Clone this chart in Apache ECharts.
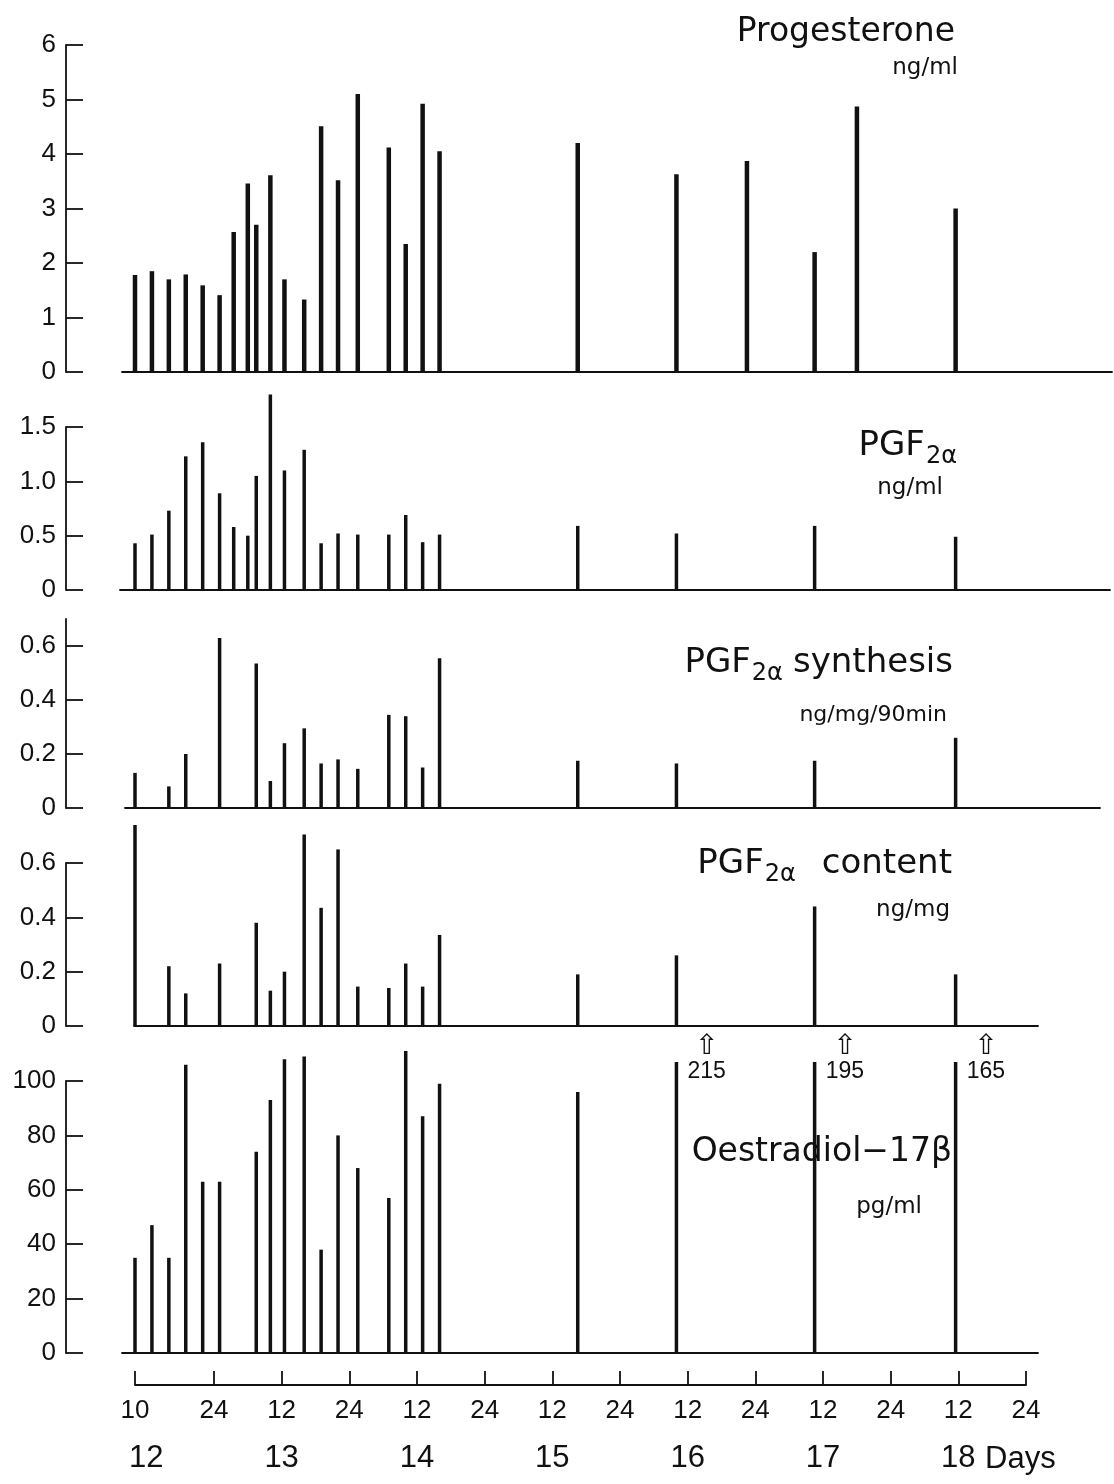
<!DOCTYPE html>
<html lang="en">
<head>
  <meta charset="UTF-8">
  <title>Hormone profiles</title>
  <style>
    html, body { margin: 0; padding: 0; background: #fff; }
    #main { width: 1114px; height: 1484px; }
  </style>
</head>
<body>
  <div id="main"></div>
  <script src="https://cdn.jsdelivr.net/npm/echarts@6/dist/echarts.min.js"></script>
  <script>
    // sampling times in hours, counted from 0h of day 12
    var hours = [10, 13, 16, 19, 22, 25, 27.5, 30, 31.5, 34, 36.5, 40, 43, 46, 49.5, 55, 58, 61, 64,
                 88.5, 106, 118.5, 130.5, 138, 155.5];

    var progesterone = [1.78, 1.85, 1.70, 1.79, 1.59, 1.41, 2.57, 3.46, 2.70, 3.61, 1.70, 1.33, 4.51, 3.52, 5.10, 4.12, 2.35, 4.92, 4.05,
                        4.2, 3.63, 3.87, 2.2, 4.87, 3.0];
    var pgf = [0.43, 0.51, 0.73, 1.23, 1.36, 0.89, 0.58, 0.50, 1.05, 1.80, 1.10, 1.29, 0.43, 0.52, 0.51, 0.51, 0.69, 0.44, 0.51,
               0.59, 0.52, null, 0.59, null, 0.49];
    var pgfSynthesis = [0.13, null, 0.08, 0.20, null, 0.63, null, null, 0.535, 0.10, 0.24, 0.295, 0.165, 0.18, 0.145, 0.345, 0.34, 0.15, 0.555,
                        0.175, 0.165, null, 0.175, null, 0.26];
    var pgfContent = [0.74, null, 0.22, 0.12, null, 0.23, null, null, 0.38, 0.13, 0.20, 0.705, 0.435, 0.65, 0.145, 0.14, 0.23, 0.145, 0.335,
                      0.19, 0.26, null, 0.44, null, 0.19];
    var oestradiol = [35, 47, 35, 106, 63, 63, null, null, 74, 93, 108, 109, 38, 80, 68, 57, 111, 87, 99,
                      96, 215, null, 195, null, 165];

    var progTicks = [0, 1, 2, 3, 4, 5, 6];
    var pgfTicks = [0, 0.5, 1.0, 1.5];
    var synTicks = [0, 0.2, 0.4, 0.6];
    var contentTicks = [0, 0.2, 0.4, 0.6];
    var oeTicks = [0, 20, 40, 60, 80, 100];

    var hourTicks = [10, 24, 36, 48, 60, 72, 84, 96, 108, 120, 132, 144, 156, 168];
    var hourLabels = ['10', '24', '12', '24', '12', '24', '12', '24', '12', '24', '12', '24', '12', '24'];
    var dayPos = [12, 36, 60, 84, 108, 132, 156];
    var dayLabels = ['12', '13', '14', '15', '16', '17', '18'];

    var myChart = echarts.init(document.getElementById('main'));

    // pixel layout: 10h sits at x=135, 5.64 px per hour
    var PX_H = 5.64;
    function hourAt(x) { return 10 + (x - 135) / PX_H; }
    var AXIS_X = 66;
    var OE_BREAK = 107;   // off-scale oestradiol bars are broken here
    var FONT = "'Liberation Sans', Arial, sans-serif";
    var TFONT = "'DejaVu Sans', sans-serif";

    var panels = [
      { vals: progesterone, ticks: progTicks, l: 122, r: 1112, top: 45, bottom: 372, max: 6, w: 4.5, dec: 0 },
      { vals: pgf, ticks: pgfTicks, l: 120, r: 1110, top: 427, bottom: 590, max: 1.5, w: 3.5, dec: 1 },
      { vals: pgfSynthesis, ticks: synTicks, l: 125, r: 1100, top: 619, bottom: 808, max: 0.7, w: 3.5, dec: 1 },
      { vals: pgfContent, ticks: contentTicks, l: 134, r: 1038, top: 863, bottom: 1026, max: 0.6, w: 3.5, dec: 1 },
      { vals: oestradiol, ticks: oeTicks, l: 122, r: 1038, top: 1081, bottom: 1353, max: 100, w: 3.5, dec: 0 }
    ];

    var grid = [], xAxis = [], yAxis = [], series = [];

    panels.forEach(function (p, i) {
      grid.push({ left: p.l, width: p.r - p.l, top: p.top, height: p.bottom - p.top });
      xAxis.push({
        type: 'value', gridIndex: i, min: hourAt(p.l), max: hourAt(p.r),
        axisLine: { show: true, onZero: false, lineStyle: { color: '#111', width: 1.8 } },
        axisTick: { show: false }, axisLabel: { show: false }, splitLine: { show: false }
      });
      yAxis.push({
        type: 'value', gridIndex: i, min: 0, max: p.max, offset: p.l - AXIS_X,
        axisLine: { show: true, lineStyle: { color: '#111', width: 1.8 } },
        axisTick: { show: true, inside: true, length: 17, customValues: p.ticks, lineStyle: { color: '#111', width: 1.8 } },
        axisLabel: {
          customValues: p.ticks, margin: 10, color: '#111', fontSize: 26, fontFamily: FONT,
          formatter: function (v) { return v === 0 ? '0' : v.toFixed(p.dec); }
        },
        splitLine: { show: false }
      });
      var data = [];
      p.vals.forEach(function (v, k) {
        if (v == null) return;
        if (i === 4 && v > 120) {
          data.push({
            value: [hours[k], OE_BREAK],
            label: {
              show: true, position: [32, -28], align: 'center', verticalAlign: 'top',
              formatter: '{a|\u21e7}\n{b|' + v + '}',
              rich: {
                a: { fontSize: 28, lineHeight: 26, fontFamily: TFONT, color: '#111' },
                b: { fontSize: 23, lineHeight: 24, fontFamily: FONT, color: '#111' }
              }
            }
          });
        } else {
          data.push([hours[k], v]);
        }
      });
      series.push({
        type: 'bar', xAxisIndex: i, yAxisIndex: i, data: data, barWidth: p.w, clip: false,
        itemStyle: { color: '#111' }, silent: true, animation: false
      });
    });

    // time axis at the foot
    grid.push({ left: 135, width: 1026 - 135, top: 1375, height: 10 });
    xAxis.push({
      type: 'value', gridIndex: 5, min: 10, max: 168,
      axisLine: { show: true, lineStyle: { color: '#111', width: 1.8 } },
      axisTick: { show: true, inside: true, length: 14, customValues: hourTicks, lineStyle: { color: '#111', width: 1.8 } },
      axisLabel: {
        customValues: hourTicks, margin: 13, color: '#111', fontSize: 26, fontFamily: FONT,
        formatter: function (v) { return hourLabels[hourTicks.indexOf(v)]; }
      },
      splitLine: { show: false }
    });
    xAxis.push({
      type: 'value', gridIndex: 5, min: 10, max: 168, position: 'bottom', offset: 58,
      axisLine: { show: false }, axisTick: { show: false },
      axisLabel: {
        customValues: dayPos, margin: 0, color: '#111', fontSize: 31, fontFamily: FONT,
        formatter: function (v) { return dayLabels[dayPos.indexOf(v)]; }
      },
      splitLine: { show: false }
    });
    yAxis.push({ type: 'value', gridIndex: 5, show: false });

    var measure = document.createElement('canvas').getContext('2d');
    function width(s, size) { measure.font = size + 'px ' + TFONT; return measure.measureText(s).width; }

    function txt(x, y, s, size, align) {
      return { type: 'text', x: x, y: y, style: { text: s, font: size + 'px ' + TFONT, fill: '#111', textAlign: align || 'left', textVerticalAlign: 'middle' } };
    }

    // "PGF" + subscript "2α" + optional word, right edge at xr
    function pgfTitle(xr, y, word, gap) {
      var wP = width('PGF', 34), wS = width('2\u03b1', 24), wW = word ? width(word, 34) + gap : 0;
      var x0 = xr - (wP + 1 + wS + wW);
      var out = [txt(x0, y, 'PGF', 34), txt(x0 + wP + 1, y + 11, '2\u03b1', 24)];
      if (word) out.push(txt(xr, y, word, 34, 'right'));
      return out;
    }

    var graphic = [
      txt(955, 32, 'Progesterone', 33, 'right'),
      txt(958, 68, 'ng/ml', 23, 'right')
    ].concat(
      pgfTitle(957, 446), [txt(943, 488, 'ng/ml', 23, 'right')],
      pgfTitle(953, 663, 'synthesis', 10), [txt(947, 715, 'ng/mg/90min', 22, 'right')],
      pgfTitle(952, 864, 'content', 26), [txt(950, 910, 'ng/mg', 23, 'right')],
      [
        txt(952, 1152, 'Oestradiol\u221217\u03b2', 33, 'right'),
        txt(922, 1207, 'pg/ml', 23, 'right'),
        { type: 'text', x: 985, y: 1459, style: { text: 'Days', font: '31px ' + FONT, fill: '#111', textVerticalAlign: 'middle' } }
      ]
    );

    var option = {
      backgroundColor: '#fff',
      animation: false,
      grid: grid,
      xAxis: xAxis,
      yAxis: yAxis,
      series: series,
      graphic: graphic
    };

    myChart.setOption(option);
  </script>
</body>
</html>
